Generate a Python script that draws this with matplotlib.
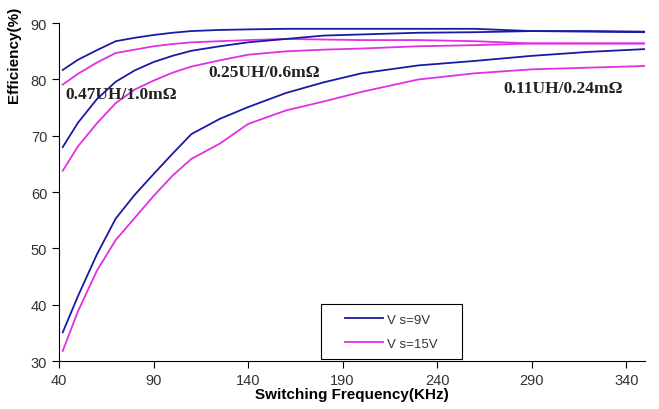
import numpy as np
import matplotlib.pyplot as plt
from matplotlib.patches import Rectangle

freq = [42, 50, 60, 70, 80, 90, 100, 110, 125, 140, 160, 180, 200, 230, 260, 290, 320, 350]

# Vs=9V (blue) and Vs=15V (magenta) for three inductor / DCR combos
eff_047_9v = [81.7, 83.5, 85.2, 86.8, 87.4, 87.9, 88.3, 88.6, 88.8, 88.9, 89.0, 89.0, 89.0, 89.0, 89.0, 88.6, 88.6, 88.5]
eff_047_15v = [79.1, 81.0, 83.0, 84.7, 85.3, 85.9, 86.3, 86.6, 86.8, 87.0, 87.2, 87.1, 87.0, 87.0, 86.8, 86.4, 86.4, 86.4]
eff_025_9v = [68.0, 72.3, 76.5, 79.6, 81.6, 83.1, 84.2, 85.1, 85.9, 86.6, 87.2, 87.8, 88.0, 88.3, 88.4, 88.6, 88.5, 88.4]
eff_025_15v = [63.8, 68.1, 72.2, 75.8, 78.2, 79.8, 81.2, 82.3, 83.4, 84.4, 85.0, 85.3, 85.5, 85.9, 86.1, 86.4, 86.4, 86.4]
eff_011_9v = [35.1, 41.5, 48.9, 55.3, 59.5, 63.2, 66.8, 70.3, 73.0, 75.1, 77.6, 79.5, 81.1, 82.5, 83.3, 84.2, 84.9, 85.4]
eff_011_15v = [31.8, 38.8, 46.0, 51.5, 55.4, 59.3, 62.9, 65.9, 68.6, 72.1, 74.5, 76.1, 77.8, 80.0, 81.1, 81.8, 82.1, 82.4]

blue = '#1a1aa6'
magenta = '#e030e0'

plt.rcParams['font.family'] = ['Liberation Sans', 'DejaVu Sans']

fig = plt.figure(figsize=(6.59, 4.10), dpi=100)
ax = fig.add_axes([0.0895, 0.117, 0.8895, 0.824])

lw = 1.3
ax.plot(freq, eff_047_9v, color=blue, linewidth=lw, label='V s=9V')
ax.plot(freq, eff_047_15v, color=magenta, linewidth=lw, label='V s=15V')
ax.plot(freq, eff_025_9v, color=blue, linewidth=lw)
ax.plot(freq, eff_025_15v, color=magenta, linewidth=lw)
ax.plot(freq, eff_011_9v, color=blue, linewidth=lw)
ax.plot(freq, eff_011_15v, color=magenta, linewidth=lw)

ax.set_xlim(40, 350)
ax.set_ylim(30, 90)
ax.set_xticks(np.arange(40, 341, 50))
ax.set_yticks(np.arange(30, 91, 10))
ax.tick_params(direction='out', length=5, width=0.8, labelsize=10.5, labelcolor='#333333')
ax.spines['top'].set_visible(False)
ax.spines['right'].set_visible(False)

serif = dict(family=['Liberation Serif', 'DejaVu Serif'], fontsize=12.5, fontweight='bold', color='#222222')
ax.text(43.2, 77.4, '0.47UH/1.0m\u03a9', va='center', **serif)
ax.text(118.8, 81.3, '0.25UH/0.6m\u03a9', va='center', **serif)
ax.text(275, 78.5, '0.11UH/0.24m\u03a9', va='center', **serif)

ax.set_xlabel('Switching Frequency(KHz)', fontsize=11, fontweight='bold', labelpad=0)
fig.text(0.022, 0.866, 'Efficiency(%)', rotation=90, fontsize=11, fontweight='bold', ha='center', va='center')

# legend box drawn separately so the entries sit centred in it, like the Excel original
ax.add_patch(Rectangle((0.447, 0.006), 0.241, 0.163, transform=ax.transAxes,
                       facecolor='white', edgecolor='black', linewidth=0.8, zorder=4))
leg = ax.legend(loc='center', bbox_to_anchor=(0.5675, 0.0875), frameon=False,
                fontsize=9.5, handlelength=2.9, handletextpad=0.3, labelspacing=0.9,
                borderpad=0, borderaxespad=0)
leg.set_zorder(5)
for t in leg.get_texts():
    t.set_color('#333333')

fig.savefig('out.png', dpi=100)
